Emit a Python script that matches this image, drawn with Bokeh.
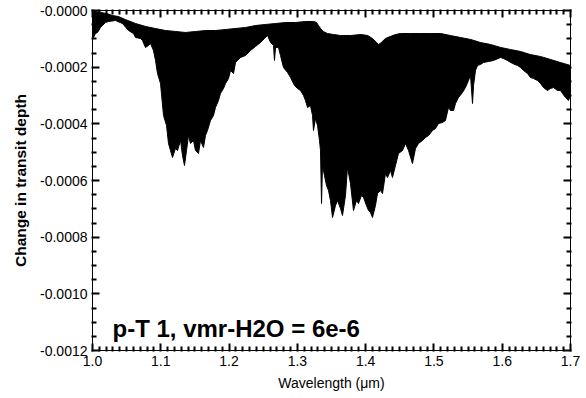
from bokeh.plotting import figure
from bokeh.models import FixedTicker, PrintfTickFormatter, LinearAxis
from bokeh.core.properties import value
from bokeh.embed import file_html
from bokeh.resources import INLINE

# ---- data (wavelength in micron, change in transit depth) ----
# upper envelope of the dense spectrum
wl_top = [1.000, 1.004, 1.012, 1.021, 1.029, 1.038, 1.048, 1.063, 1.078, 1.092,
          1.107, 1.122, 1.136, 1.151, 1.166, 1.180, 1.195, 1.209, 1.224, 1.239,
          1.253, 1.268, 1.283, 1.297, 1.312, 1.324, 1.328, 1.331, 1.334, 1.338,
          1.344, 1.353, 1.363, 1.378, 1.393, 1.403, 1.410, 1.416, 1.419, 1.423,
          1.429, 1.436, 1.444, 1.451, 1.466, 1.480, 1.495, 1.510, 1.524, 1.539,
          1.554, 1.568, 1.583, 1.598, 1.612, 1.627, 1.641, 1.656, 1.671, 1.685, 1.700]
depth_top = [-3.5e-6, -3.5e-6, -7.1e-6, -10.6e-6, -17.6e-6, -21.2e-6, -31.8e-6, -45.9e-6, -56.5e-6, -63.5e-6,
             -70.6e-6, -74.1e-6, -77.6e-6, -74.1e-6, -70.6e-6, -70.6e-6, -67.1e-6, -63.5e-6, -60.0e-6, -52.9e-6,
             -49.4e-6, -45.9e-6, -42.4e-6, -42.4e-6, -38.8e-6, -38.8e-6, -42.4e-6, -52.9e-6, -63.5e-6, -74.1e-6,
             -81.2e-6, -84.7e-6, -88.2e-6, -88.2e-6, -84.7e-6, -88.2e-6, -98.8e-6, -112.9e-6, -120.0e-6, -112.9e-6,
             -98.8e-6, -91.8e-6, -84.7e-6, -81.2e-6, -81.2e-6, -81.2e-6, -81.2e-6, -81.2e-6, -88.2e-6, -95.3e-6,
             -102.4e-6, -112.9e-6, -120.0e-6, -130.6e-6, -137.6e-6, -144.7e-6, -155.3e-6, -162.4e-6, -172.9e-6, -183.5e-6, -194.1e-6]

# lower envelope (deepest absorption lines)
wl_bot = [1.0000, 1.0015, 1.0044, 1.0073, 1.0117, 1.0146, 1.0190, 1.0234, 1.0337, 1.0439,
          1.0527, 1.0600, 1.0630, 1.0703, 1.0732, 1.0776, 1.0820, 1.0849, 1.0893, 1.0923,
          1.0952, 1.0996, 1.1040, 1.1084, 1.1113, 1.1142, 1.1172, 1.1215, 1.1245, 1.1289,
          1.1318, 1.1347, 1.1377, 1.1406, 1.1435, 1.1479, 1.1508, 1.1552, 1.1582, 1.1625,
          1.1655, 1.1684, 1.1728, 1.1772, 1.1801, 1.1845, 1.1874, 1.1918, 1.1948, 1.1992,
          1.2021, 1.2065, 1.2094, 1.2123, 1.2167, 1.2241, 1.2314, 1.2387, 1.2460, 1.2519,
          1.2563, 1.2607, 1.2651, 1.2665, 1.2680, 1.2724, 1.2753, 1.2797, 1.2856, 1.2900,
          1.2958, 1.3002, 1.3046, 1.3090, 1.3119, 1.3149, 1.3192, 1.3222, 1.3236, 1.3266,
          1.3295, 1.3324, 1.3339, 1.3354, 1.3368, 1.3397, 1.3427, 1.3456, 1.3485, 1.3515,
          1.3559, 1.3588, 1.3632, 1.3661, 1.3705, 1.3734, 1.3778, 1.3822, 1.3866, 1.3895,
          1.3939, 1.3969, 1.4012, 1.4042, 1.4071, 1.4100, 1.4144, 1.4174, 1.4217, 1.4247,
          1.4291, 1.4320, 1.4364, 1.4393, 1.4437, 1.4481, 1.4540, 1.4584, 1.4628, 1.4686,
          1.4730, 1.4774, 1.4833, 1.4877, 1.4921, 1.4979, 1.5023, 1.5067, 1.5126, 1.5169,
          1.5213, 1.5243, 1.5287, 1.5316, 1.5360, 1.5418, 1.5462, 1.5506, 1.5536, 1.5565,
          1.5580, 1.5609, 1.5638, 1.5682, 1.5726, 1.5799, 1.5872, 1.5975, 1.6019, 1.6077,
          1.6151, 1.6224, 1.6268, 1.6312, 1.6370, 1.6414, 1.6458, 1.6517, 1.6561, 1.6604,
          1.6663, 1.6707, 1.6751, 1.6810, 1.6854, 1.6883, 1.6927, 1.6971, 1.7000]
depth_bot = [-70.6e-6, -95.3e-6, -81.2e-6, -77.6e-6, -60.0e-6, -52.9e-6, -42.4e-6, -38.8e-6, -35.3e-6, -45.9e-6,
             -70.6e-6, -81.2e-6, -95.3e-6, -98.8e-6, -105.9e-6, -130.6e-6, -123.5e-6, -116.5e-6, -141.2e-6, -176.5e-6,
             -222.4e-6, -257.6e-6, -370.6e-6, -405.9e-6, -469.4e-6, -494.1e-6, -518.8e-6, -487.1e-6, -494.1e-6, -458.8e-6,
             -511.8e-6, -547.1e-6, -494.1e-6, -441.2e-6, -469.4e-6, -458.8e-6, -494.1e-6, -504.7e-6, -458.8e-6, -483.5e-6,
             -441.2e-6, -423.5e-6, -388.2e-6, -370.6e-6, -342.4e-6, -317.6e-6, -292.9e-6, -275.3e-6, -257.6e-6, -240.0e-6,
             -211.8e-6, -222.4e-6, -183.5e-6, -176.5e-6, -165.9e-6, -158.8e-6, -141.2e-6, -127.1e-6, -112.9e-6, -98.8e-6,
             -88.2e-6, -112.9e-6, -123.5e-6, -176.5e-6, -130.6e-6, -130.6e-6, -158.8e-6, -201.2e-6, -218.8e-6, -236.5e-6,
             -264.7e-6, -275.3e-6, -282.4e-6, -300.0e-6, -317.6e-6, -342.4e-6, -335.3e-6, -370.6e-6, -423.5e-6, -381.2e-6,
             -405.9e-6, -458.8e-6, -494.1e-6, -681.2e-6, -547.1e-6, -582.4e-6, -617.6e-6, -635.3e-6, -670.6e-6, -730.6e-6,
             -688.2e-6, -670.6e-6, -698.8e-6, -723.5e-6, -652.9e-6, -554.1e-6, -610.6e-6, -705.9e-6, -670.6e-6, -681.2e-6,
             -652.9e-6, -660.0e-6, -688.2e-6, -705.9e-6, -712.9e-6, -730.6e-6, -688.2e-6, -645.9e-6, -635.3e-6, -645.9e-6,
             -575.3e-6, -589.4e-6, -564.7e-6, -589.4e-6, -547.1e-6, -504.7e-6, -494.1e-6, -469.4e-6, -494.1e-6, -540.0e-6,
             -487.1e-6, -469.4e-6, -458.8e-6, -448.2e-6, -441.2e-6, -423.5e-6, -416.5e-6, -398.8e-6, -395.3e-6, -388.2e-6,
             -342.4e-6, -352.9e-6, -352.9e-6, -328.2e-6, -307.1e-6, -289.4e-6, -271.8e-6, -247.1e-6, -229.4e-6, -328.2e-6,
             -264.7e-6, -211.8e-6, -194.1e-6, -190.6e-6, -183.5e-6, -180.0e-6, -176.5e-6, -165.9e-6, -169.4e-6, -176.5e-6,
             -187.1e-6, -194.1e-6, -201.2e-6, -211.8e-6, -222.4e-6, -236.5e-6, -240.0e-6, -247.1e-6, -257.6e-6, -271.8e-6,
             -282.4e-6, -275.3e-6, -271.8e-6, -282.4e-6, -282.4e-6, -292.9e-6, -307.1e-6, -317.6e-6, -300.0e-6]

# axis ticks (top tick sits a hair below zero so that it prints as "-0.0000")
x_ticks = [1.0, 1.1, 1.2, 1.3, 1.4, 1.5, 1.6, 1.7]
y_ticks = [-1e-9, -0.0002, -0.0004, -0.0006, -0.0008, -0.0010, -0.0012]
x_minor = [round(1.0 + k * 0.01, 3) for k in range(1, 70) if k % 10]
y_minor = [round(-k * 0.00005, 6) for k in range(1, 24) if k % 4]

annotation = "p-T 1, vmr-H2O = 6e-6"
annot_x, annot_y = 1.0293, -0.001122
x_title = "Wavelength (\u03bcm)"
y_title = "Change in transit depth"

FONT = "Liberation Sans"
X0, X1 = 1.0, 1.7
Y0, Y1 = -0.0012, 0.0

p = figure(width=586, height=398, x_range=(X0, X1), y_range=(Y0, Y1),
           output_backend="svg", toolbar_location=None,
           min_border_left=92, min_border_right=16, min_border_top=10, min_border_bottom=48,
           x_axis_label=x_title, y_axis_label=y_title)
p.grid.visible = False
p.outline_line_color = "black"

# spectrum as filled band between envelopes
poly_x = wl_top + wl_bot[::-1]
poly_y = depth_top + depth_bot[::-1]
p.multi_polygons(xs=[[[poly_x]]], ys=[[[poly_y]]], fill_color="black",
                 line_color="black", line_width=1)

# annotation text
p.text(x=[annot_x], y=[annot_y], text=[annotation], text_font=value(FONT),
       text_font_size="24px", text_font_style="bold", text_color="black",
       text_baseline="alphabetic", text_align="left")

def style(ax, ticks, minor, fmt, show_labels=True):
    ax.ticker = FixedTicker(ticks=ticks, minor_ticks=minor)
    ax.formatter = fmt
    ax.major_tick_in = 7
    ax.major_tick_out = 1
    ax.minor_tick_in = 4
    ax.minor_tick_out = 1
    ax.major_tick_line_color = "black"
    ax.minor_tick_line_color = "black"
    ax.major_tick_line_width = 2
    ax.minor_tick_line_width = 2
    ax.axis_line_color = "black"
    ax.major_label_text_font = FONT
    ax.major_label_text_font_size = "14px"
    ax.major_label_text_color = "black"
    ax.major_label_standoff = 4
    ax.axis_label_text_font = FONT
    ax.axis_label_text_color = "black"
    if not show_labels:
        ax.major_label_text_alpha = 0
        ax.major_label_standoff = 0

xa = p.xaxis[0]
ya = p.yaxis[0]
style(xa, x_ticks, x_minor, PrintfTickFormatter(format="%.1f"))
style(ya, y_ticks, y_minor, PrintfTickFormatter(format="%.4f"))

xa.axis_label_text_font_size = "14px"
xa.axis_label_text_font_style = "normal"
xa.axis_label_standoff = 6
ya.axis_label_text_font_size = "15.5px"
ya.axis_label_text_font_style = "bold"
ya.axis_label_standoff = 8

top = LinearAxis()
style(top, x_ticks, x_minor, PrintfTickFormatter(format="%.1f"), show_labels=False)
p.add_layout(top, "above")
right = LinearAxis()
style(right, y_ticks, y_minor, PrintfTickFormatter(format="%.4f"), show_labels=False)
p.add_layout(right, "right")

open("out.html", "w").write(file_html(p, INLINE))
